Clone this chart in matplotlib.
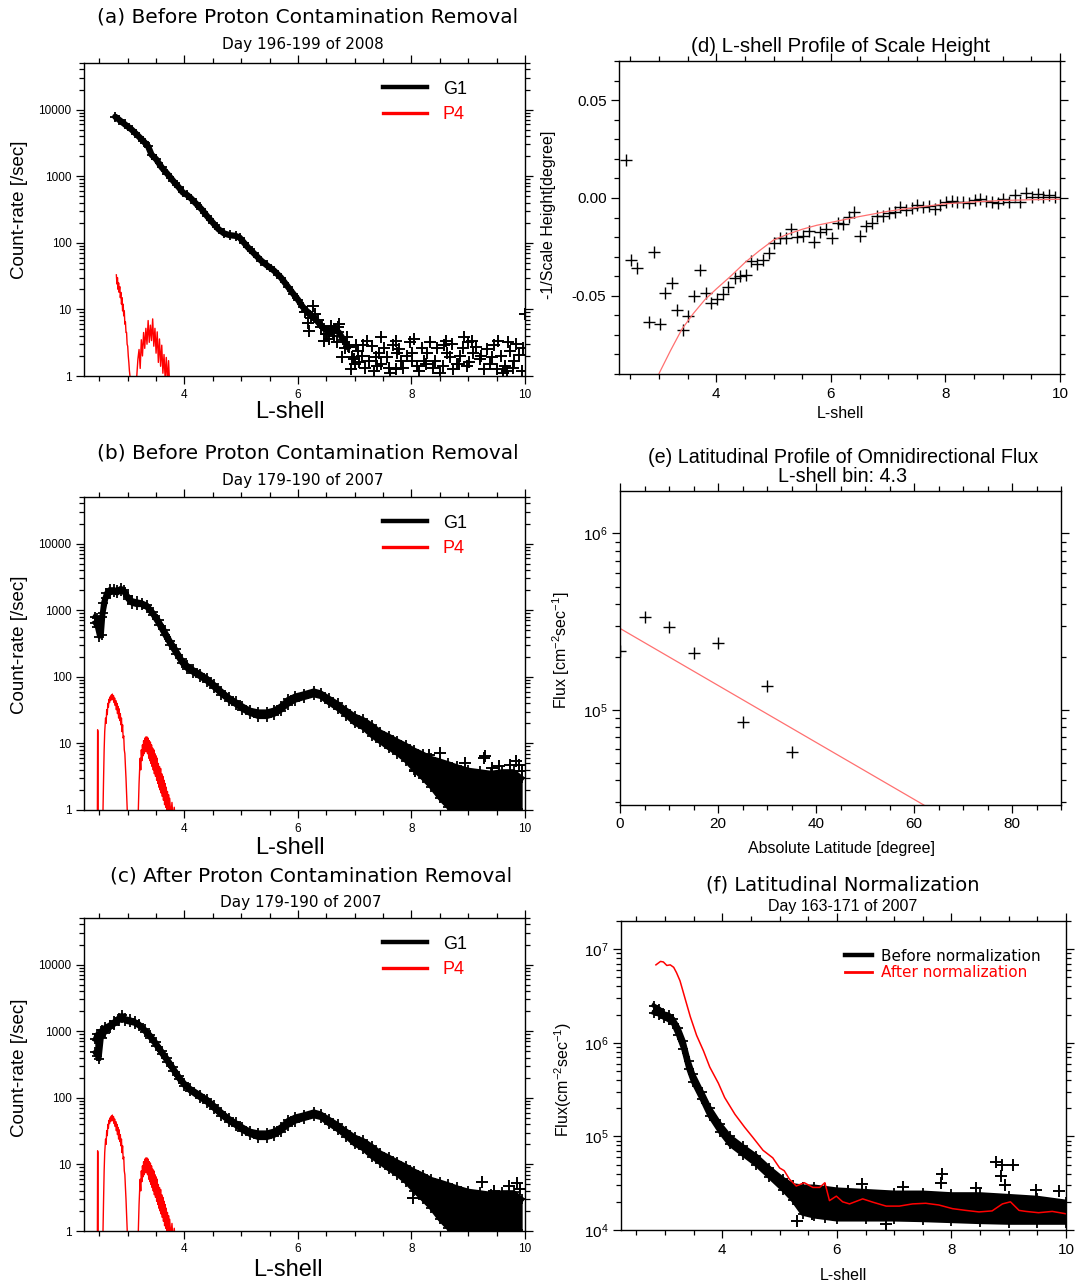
import numpy as np
import matplotlib.pyplot as plt
from matplotlib.lines import Line2D
from matplotlib.ticker import MultipleLocator, LogLocator, NullFormatter, FixedLocator, FixedFormatter, FormatStrFormatter

plt.rcParams['font.family'] = ['Liberation Sans', 'DejaVu Sans']
plt.rcParams['axes.unicode_minus'] = False
plt.rcParams['mathtext.fontset'] = 'custom'
plt.rcParams['mathtext.rm'] = 'Liberation Sans'
plt.rcParams['mathtext.default'] = 'regular'

# ---------------- (a) day 196-199 of 2008 ----------------
a_L = [2.78, 2.85, 2.95, 3.07, 3.20, 3.30, 3.36, 3.42, 3.50, 3.60, 3.70, 3.80, 3.90, 3.97,
       4.05, 4.12, 4.20, 4.30, 4.40, 4.50, 4.60, 4.70, 4.80, 4.90, 4.97, 5.05, 5.12, 5.22,
       5.35, 5.45, 5.58, 5.70, 5.82, 5.92, 6.00, 6.08, 6.15, 6.25, 6.35, 6.45, 6.55, 6.65,
       6.72, 6.80, 6.88]
a_g1 = [7800, 7000, 6000, 5000, 3900, 3200, 2800, 2100, 1800, 1350, 1080, 850, 680, 570,
        520, 460, 390, 320, 250, 200, 160, 138, 130, 127, 120, 100, 85, 70,
        54, 46, 38, 30, 22, 17, 14, 11, 9.5, 8, 6.5, 5.2, 4.8, 5.0,
        4.5, 3.5, 2.7]
a_tail_L = [6.26, 6.23, 6.20, 6.46, 6.58, 6.73, 6.64, 6.87, 6.78, 6.90, 6.93, 7.05, 7.08, 7.22,
            7.25, 7.34, 7.43, 7.46, 7.46, 7.57, 7.72, 7.75, 7.72, 7.81, 7.98, 8.01, 8.01, 8.13,
            8.22, 8.33, 8.28, 8.42, 8.60, 8.63, 8.74, 8.86, 8.92, 8.98, 9.06, 9.09, 9.27, 9.33,
            9.42, 9.53, 9.50, 9.68, 9.74, 9.85, 9.80, 9.94, 10.0, 6.35, 6.52, 7.15, 7.62, 8.50,
            8.80, 9.20, 9.62, 6.98,
            6.12, 6.18, 6.30, 6.40, 6.50, 6.55, 6.62, 6.68, 6.70, 6.82, 6.95, 7.00, 7.02, 7.12,
            7.18, 7.30, 7.38, 7.40, 7.52, 7.60, 7.68, 7.78, 7.85, 7.92, 8.05, 8.10, 8.18, 8.25,
            8.38, 8.45, 8.55, 8.58, 8.68, 8.72, 8.83, 8.90, 9.00, 9.02, 9.14, 9.22, 9.38, 9.45,
            9.58, 9.65, 9.70, 9.78, 9.90, 9.96]
a_tail_v = [11.2, 7.5, 4.8, 3.4, 5.6, 6.0, 4.0, 3.8, 1.9, 2.7, 1.26, 2.4, 1.6, 3.4,
            1.7, 1.2, 2.25, 3.8, 1.5, 1.9, 3.4, 2.2, 1.26, 1.7, 3.2, 2.2, 1.7, 1.2,
            1.7, 3.2, 2.2, 1.7, 3.4, 2.2, 1.26, 2.0, 3.8, 1.4, 3.4, 2.2, 1.26, 2.5,
            1.9, 3.4, 1.26, 1.2, 2.4, 3.0, 1.7, 1.2, 8.5, 7.0, 4.2, 2.9, 1.1, 1.1,
            1.5, 1.8, 1.1, 1.8,
            9.0, 6.2, 8.5, 5.5, 4.3, 3.6, 4.6, 3.2, 5.5, 2.6, 1.9, 1.5, 2.9, 2.0,
            1.3, 2.8, 1.9, 1.4, 2.6, 1.3, 2.9, 2.5, 1.3, 2.0, 3.6, 1.4, 2.6, 1.5,
            1.3, 2.6, 1.4, 2.9, 1.9, 3.0, 1.5, 2.6, 3.2, 1.6, 2.7, 2.0, 1.5, 2.9,
            2.0, 1.4, 3.2, 1.3, 2.1, 2.6]
a_p4_L1 = [2.80, 2.81, 2.82, 2.83, 2.84, 2.85, 2.86, 2.87, 2.88, 2.89, 2.90, 2.91, 2.92,
           2.93, 2.94, 2.95, 2.96, 2.97, 2.98, 2.99, 3.00, 3.01, 3.02, 3.03, 3.04, 3.06]
a_p4_v1 = [33, 24, 30, 20, 25, 18, 22, 15, 18, 12, 15, 9.5, 12,
           8, 9.5, 6, 6.5, 4.5, 4.5, 3.0, 2.8, 2, 1.6, 1.2, 1.0, 0.5]
a_p4_L2 = [3.14, 3.16, 3.18, 3.20, 3.22, 3.24, 3.26, 3.28, 3.30, 3.32, 3.34, 3.36, 3.38, 3.40,
           3.42, 3.44, 3.46, 3.48, 3.50, 3.52, 3.54, 3.56, 3.58, 3.60, 3.62, 3.64, 3.66, 3.68,
           3.70, 3.72, 3.74]
a_p4_v2 = [0.5, 1.0, 1.8, 2.5, 1.3, 3.5, 2.0, 4.5, 2.6, 5.2, 3.0, 6.8, 3.2, 5.8,
           3.4, 7.2, 2.8, 5.2, 2.2, 4.6, 1.6, 3.6, 1.4, 2.9, 1.1, 2.1, 0.9, 1.9,
           0.8, 1.7, 0.7]

# ---------------- (b) day 179-190 of 2007, before removal ----------------
b_L = [2.42, 2.46, 2.50, 2.54, 2.57, 2.62, 2.68, 2.75, 2.82, 2.88, 2.94, 3.00, 3.08, 3.16,
       3.25, 3.34, 3.44, 3.55, 3.65, 3.75, 3.85, 3.95, 4.05, 4.15, 4.28, 4.40, 4.52, 4.65,
       4.78, 4.90, 5.02, 5.15, 5.30, 5.45, 5.58, 5.70, 5.82, 5.95, 6.10, 6.28, 6.40, 6.55,
       6.70, 6.85, 7.00, 7.15, 7.30, 7.45, 7.60, 7.75, 7.90, 8.05, 8.20, 8.35, 8.50, 8.65,
       8.80, 9.00, 9.20, 9.40, 9.60, 9.80, 9.95]
b_lo = [650, 560, 400, 420, 900, 1500, 1800, 1850, 1800, 1950, 1800, 1450, 1250, 1200,
        1200, 1080, 850, 600, 420, 300, 220, 160, 130, 115, 98, 84, 68, 54,
        44, 38, 32, 28, 25, 25, 27, 31, 38, 44, 48, 53, 50, 40,
        33, 26, 20, 17, 13, 10.5, 8.5, 7, 5.5, 4, 3, 2.2, 1.5, 1.1,
        0.9, 0.9, 0.9, 0.9, 0.9, 0.9, 0.9]
b_hi = [800, 760, 720, 800, 1300, 1800, 2050, 2050, 2000, 2150, 2000, 1650, 1400, 1350,
        1300, 1200, 950, 700, 500, 350, 260, 185, 150, 130, 112, 96, 78, 62,
        50, 43, 37, 32, 30, 30, 32, 37, 46, 52, 56, 62, 58, 48,
        40, 32, 26, 23, 19, 15, 13, 11, 9.5, 8, 7, 6, 5.5, 5,
        4.5, 4, 3.8, 3.6, 3.8, 3.8, 3.0]
b_out_L = [8.07, 8.51, 9.27, 9.42, 9.74, 9.89, 9.94, 8.30, 9.30, 9.55, 9.85, 8.95]
b_out_v = [3.8, 7.1, 6.0, 4.3, 4.8, 4.8, 3.8, 6.8, 6.5, 4.5, 5.5, 5.0]

# P4 (identical in panels b and c)
p4_L0 = [2.465, 2.470, 2.475, 2.480]
p4_v0 = [0.5, 16, 15, 0.5]
p4_L1 = [2.56, 2.575, 2.585, 2.595, 2.61, 2.62, 2.63, 2.64, 2.65, 2.66, 2.67, 2.68, 2.69, 2.70,
         2.71, 2.72, 2.73, 2.74, 2.75, 2.76, 2.77, 2.78, 2.79, 2.80, 2.81, 2.82, 2.83, 2.84,
         2.85, 2.86, 2.87, 2.88, 2.89, 2.90, 2.91, 2.92, 2.93, 2.94, 2.95, 2.96, 2.97, 2.98,
         2.99, 3.00]
p4_v1 = [0.6, 3, 8, 15, 24, 20, 32, 27, 40, 35, 46, 41, 50, 44,
         53, 46, 55, 45, 52, 41, 48, 37, 44, 32, 40, 28, 36, 24,
         33, 22, 28, 19, 24, 15, 19, 12, 13, 8, 7, 4.5, 3, 1.8,
         1.1, 0.6]
p4_L2 = [3.18, 3.20, 3.21, 3.22, 3.23, 3.24, 3.25, 3.26, 3.27, 3.28, 3.29, 3.30, 3.31, 3.32,
         3.33, 3.34, 3.35, 3.36, 3.37, 3.38, 3.39, 3.40, 3.41, 3.42, 3.43, 3.44, 3.45, 3.46,
         3.47, 3.48, 3.49, 3.50, 3.51, 3.52, 3.53, 3.54, 3.55, 3.56, 3.57, 3.58, 3.59, 3.60,
         3.61, 3.62, 3.63, 3.64, 3.65, 3.66, 3.67, 3.68, 3.69, 3.70, 3.71, 3.72, 3.73, 3.74,
         3.76, 3.78, 3.80, 3.82, 3.84]
p4_v2 = [0.6, 2.5, 4, 6, 4, 8, 5.5, 9.5, 6.5, 11, 7, 12, 7.5, 12.5,
         7.5, 12.5, 7, 12, 6, 11, 5.5, 10.5, 5, 9.5, 4.5, 8.5, 4, 8,
         3.5, 7, 3.2, 6.5, 2.8, 6, 2.5, 5, 2.2, 4.5, 2.0, 4.2, 1.8, 3.5,
         1.6, 3.2, 1.4, 2.8, 1.2, 2.5, 1.1, 2.2, 1.0, 1.9, 0.9, 1.7, 0.8, 1.5,
         0.8, 1.3, 0.7, 1.1, 0.6]

# ---------------- (c) after removal ----------------
c_L = [2.42, 2.46, 2.50, 2.54, 2.60, 2.68, 2.76, 2.84, 2.90, 2.96, 3.04, 3.12, 3.20, 3.30,
       3.40, 3.50, 3.60, 3.70, 3.80, 3.90, 4.00, 4.10, 4.28, 4.40, 4.52, 4.65,
       4.78, 4.90, 5.02, 5.15, 5.30, 5.45, 5.58, 5.70, 5.82, 5.95, 6.10, 6.28, 6.40, 6.55,
       6.70, 6.85, 7.00, 7.15, 7.30, 7.45, 7.60, 7.75, 7.90, 8.05, 8.20, 8.35, 8.50, 8.65,
       8.80, 9.00, 9.20, 9.40, 9.60, 9.80, 9.95]
c_lo = [480, 420, 380, 800, 950, 1100, 1250, 1400, 1550, 1400, 1350, 1300, 1180, 980,
        780, 600, 450, 340, 255, 190, 150, 125, 98, 84, 68, 54,
        44, 38, 32, 28, 25, 25, 27, 31, 38, 44, 48, 53, 50, 40,
        33, 26, 20, 17, 13, 10.5, 8.5, 7, 5.5, 4, 3, 2.2, 1.5, 1.1,
        0.9, 0.9, 0.9, 0.9, 0.9, 0.9, 0.9]
c_hi = [750, 900, 900, 1050, 1150, 1250, 1400, 1600, 1750, 1550, 1500, 1420, 1300, 1080,
        880, 680, 510, 390, 290, 215, 168, 140, 112, 96, 78, 62,
        50, 43, 37, 32, 30, 30, 32, 37, 46, 52, 56, 62, 58, 48,
        40, 32, 26, 23, 19, 15, 13, 11, 9.5, 8, 7, 6, 5.5, 5,
        4.5, 4, 3.8, 3.6, 3.8, 3.8, 3.0]
c_out_L = [8.03, 9.25, 9.71, 9.86, 8.24, 9.45, 9.92]
c_out_v = [3.1, 5.5, 4.7, 5.2, 4.1, 4.0, 4.2]

# ---------------- (d) scale height ----------------
d_L = [2.42, 2.51, 2.61, 2.82, 2.91, 3.01, 3.11, 3.22, 3.31, 3.41, 3.51, 3.61, 3.71, 3.82,
       3.91, 4.01, 4.11, 4.21, 4.32, 4.42, 4.51, 4.61, 4.71, 4.81, 4.92, 5.01, 5.11, 5.21,
       5.31, 5.41, 5.52, 5.62, 5.71, 5.81, 5.91, 6.02, 6.12, 6.21, 6.31, 6.41, 6.51, 6.61,
       6.71, 6.81, 6.91, 7.01, 7.12, 7.21, 7.31, 7.41, 7.51, 7.61, 7.71, 7.81, 7.91, 8.01,
       8.11, 8.21, 8.31, 8.41, 8.51, 8.61, 8.71, 8.81, 8.91, 9.01, 9.11, 9.21, 9.31, 9.41,
       9.51, 9.61, 9.71, 9.81, 9.91]
d_h = [0.0195, -0.0318, -0.0356, -0.0634, -0.0275, -0.0646, -0.0485, -0.0434, -0.0571,
       -0.0673, -0.0603, -0.0503, -0.0369, -0.0485, -0.0537, -0.0516, -0.0489, -0.0455,
       -0.0410, -0.0400, -0.0395, -0.0323, -0.0338, -0.0318, -0.0280, -0.0229, -0.0207,
       -0.0207, -0.0161, -0.0198, -0.0195, -0.0169, -0.0224, -0.0176, -0.0161, -0.0207,
       -0.0130, -0.0135, -0.0096, -0.0070, -0.0195, -0.0142, -0.0126, -0.0091, -0.0091,
       -0.0075, -0.0070, -0.0048, -0.0062, -0.0053, -0.0036, -0.0044, -0.0041, -0.0056,
       -0.0034, -0.0022, -0.0015, -0.0019, -0.0019, -0.0024, -0.0010, -0.0007, -0.0014,
       -0.0019, -0.0027, -0.0007, -0.0019, 0.0014, -0.0019, 0.0027, 0.0007, 0.0021,
       0.0007, 0.0015, 0.0007]
d_fit_L = [3.0, 3.2, 3.4, 3.6, 3.8, 4.0, 4.25, 4.5, 4.75, 5.0, 5.25, 5.5, 5.75, 6.0, 6.5,
           7.0, 7.5, 8.0, 8.5, 9.0, 9.5, 10.0]
d_fit_h = [-0.0897, -0.078, -0.067, -0.059, -0.052, -0.0465, -0.040, -0.033, -0.027,
           -0.0215, -0.0185, -0.016, -0.014, -0.0125, -0.0095, -0.0068, -0.0048, -0.0030,
           -0.0020, -0.0013, -0.0009, -0.0007]

# ---------------- (e) latitudinal profile ----------------
e_lat = [0, 5, 10, 15, 20, 25, 30, 35]
e_flux = [2.16e5, 3.37e5, 2.97e5, 2.10e5, 2.39e5, 8.57e4, 1.37e5, 5.81e4]
e_fit_lat = [0, 62]
e_fit_flux = [2.9e5, 2.9e4]

# ---------------- (f) latitudinal normalization ----------------
f_L = [2.80, 2.90, 2.98, 3.06, 3.14, 3.23, 3.32, 3.41, 3.49, 3.64, 3.78, 3.96, 4.13, 4.36,
       4.59, 4.82, 5.06, 5.23, 5.40, 5.60, 5.80, 6.00, 6.50, 7.00, 7.50, 8.00, 8.50, 9.00,
       9.50, 10.0]
f_lo = [2.1e6, 2.0e6, 1.85e6, 1.75e6, 1.6e6, 1.2e6, 8.5e5, 5.2e5, 3.8e5, 2.5e5, 1.65e5,
        1.12e5, 8.2e4, 6.4e4, 5.0e4, 3.7e4, 2.7e4, 2.1e4, 1.5e4, 1.4e4, 1.35e4, 1.3e4,
        1.3e4, 1.3e4, 1.28e4, 1.25e4, 1.22e4, 1.2e4, 1.2e4, 1.2e4]
f_hi = [2.5e6, 2.3e6, 2.05e6, 2.0e6, 1.8e6, 1.45e6, 1.05e6, 6.4e5, 4.6e5, 3.0e5, 2.0e5,
        1.35e5, 1.0e5, 7.8e4, 6.2e4, 4.6e4, 3.5e4, 3.0e4, 2.9e4, 2.9e4, 2.8e4, 2.7e4,
        2.6e4, 2.5e4, 2.5e4, 2.4e4, 2.4e4, 2.3e4, 2.2e4, 2.0e4]
f_out_L = [8.77, 8.88, 9.07, 7.83, 8.87, 6.44, 9.47, 9.87, 8.42, 8.94, 7.16, 7.81, 6.20,
           6.86, 5.57, 5.30]
f_out_v = [5.3e4, 5.0e4, 5.0e4, 4.0e4, 3.8e4, 3.1e4, 2.7e4, 2.6e4, 2.8e4, 3.0e4, 2.85e4,
           3.2e4, 2.6e4, 1.15e4, 1.5e4, 1.25e4]
f_norm_L = [2.84, 2.92, 2.97, 3.03, 3.09, 3.15, 3.20, 3.26, 3.35, 3.44, 3.55, 3.67, 3.78,
            3.93, 4.04, 4.22, 4.39, 4.53, 4.71, 4.88, 5.00, 5.08, 5.17, 5.29, 5.43, 5.58,
            5.70, 5.79, 5.87, 5.99, 6.10, 6.22, 6.45, 6.63, 6.86, 7.09, 7.32, 7.55, 7.78,
            8.02, 8.25, 8.48, 8.71, 8.89, 9.03, 9.18, 9.30, 9.52, 9.76, 10.0]
f_norm = [6.8e6, 7.4e6, 7.3e6, 6.7e6, 6.8e6, 6.4e6, 5.6e6, 4.6e6, 2.95e6, 1.9e6, 1.2e6,
          8.2e5, 5.5e5, 3.7e5, 2.6e5, 1.72e5, 1.25e5, 9.8e4, 7.1e4, 5.9e4, 4.6e4, 4.3e4,
          3.5e4, 2.95e4, 3.2e4, 2.85e4, 2.85e4, 3.2e4, 2.06e4, 2.3e4, 2.0e4, 1.9e4, 2.15e4,
          1.98e4, 1.8e4, 1.8e4, 1.9e4, 1.93e4, 1.85e4, 1.69e4, 1.62e4, 1.56e4, 1.6e4, 1.9e4,
          2.0e4, 1.62e4, 1.58e4, 1.53e4, 1.58e4, 1.49e4]

W, H = 1075, 1285
fig = plt.figure(figsize=(W / 100, H / 100), dpi=100)


def px_axes(l, t, r, b):
    return fig.add_axes([l / W, 1 - b / H, (r - l) / W, (b - t) / H])


def ftext(x, y, s, size, **kw):
    fig.text(x / W, 1 - y / H, s, fontsize=size, ha='center', va='center', **kw)


def style(ax, labelsize):
    ax.tick_params(which='both', direction='out', top=True, right=True,
                   labelsize=labelsize, width=0.9, pad=3)
    ax.tick_params(which='major', length=6)
    ax.tick_params(which='minor', length=3.5)
    for s in ax.spines.values():
        s.set_linewidth(1.0)


def count_axes(ax):
    ax.set_yscale('log')
    ax.set_xlim(2.23, 10)
    ax.set_ylim(1, 5e4)
    ax.xaxis.set_major_locator(FixedLocator([4, 6, 8, 10]))
    ax.xaxis.set_minor_locator(MultipleLocator(0.5))
    ax.yaxis.set_major_locator(FixedLocator([1, 10, 100, 1000, 10000]))
    ax.yaxis.set_major_formatter(FixedFormatter(['1', '10', '100', '1000', '10000']))
    ax.yaxis.set_minor_locator(LogLocator(base=10, subs=np.arange(2, 10)))
    ax.yaxis.set_minor_formatter(NullFormatter())
    style(ax, 8.5)
    h = [Line2D([], [], color='k', lw=3.2), Line2D([], [], color='r', lw=2.4)]
    ax.legend(h, ['G1', 'P4'], loc='upper right', bbox_to_anchor=(0.905, 0.995),
              frameon=False, fontsize=13, handlelength=2.4, handletextpad=0.9,
              labelspacing=0.45, labelcolor=['k', 'r'])


def band(ax, L, lo, hi):
    ax.fill_between(L, lo, hi, color='k', lw=0)
    ax.plot(L, lo, color='k', lw=3.2, solid_joinstyle='round')
    ax.plot(L, hi, color='k', lw=3.2, solid_joinstyle='round')
    ax.plot(L, lo, 'k+', ms=7, mew=1.3)
    ax.plot(L, hi, 'k+', ms=7, mew=1.3)


TITLE = dict(family=['DejaVu Sans'])

# ---- panel (a)
ax = px_axes(84, 63, 525, 376)
ax.plot(a_L, a_g1, color='k', lw=4.5, solid_capstyle='round')
ax.plot(a_L, a_g1, 'k+', ms=7, mew=1.3)
ax.plot(a_tail_L, a_tail_v, 'k+', ms=8, mew=1.4, ls='none')
ax.plot(a_p4_L1, a_p4_v1, color='r', lw=1)
ax.plot(a_p4_L2, a_p4_v2, color='r', lw=1)
count_axes(ax)
ftext(308, 17, '(a) Before Proton Contamination Removal', 14.5, **TITLE)
ftext(303, 44, 'Day 196-199 of 2008', 11, **TITLE)
ftext(20, 210, 'Count-rate [/sec]', 13.5, rotation=90)
ftext(290, 412, 'L-shell', 17)

# ---- panel (b)
ax = px_axes(84, 497, 525, 810)
band(ax, b_L, b_lo, b_hi)
ax.plot(b_out_L, b_out_v, 'k+', ms=8, mew=1.4, ls='none')
for Lp, vp in [(p4_L0, p4_v0), (p4_L1, p4_v1), (p4_L2, p4_v2)]:
    ax.plot(Lp, vp, color='r', lw=1)
count_axes(ax)
ftext(308, 453, '(b) Before Proton Contamination Removal', 14.5, **TITLE)
ftext(303, 480, 'Day 179-190 of 2007', 11, **TITLE)
ftext(20, 645, 'Count-rate [/sec]', 13.5, rotation=90)
ftext(290, 848, 'L-shell', 17)

# ---- panel (c)
ax = px_axes(84, 918, 525, 1231)
band(ax, c_L, c_lo, c_hi)
ax.plot(c_out_L, c_out_v, 'k+', ms=8, mew=1.4, ls='none')
for Lp, vp in [(p4_L0, p4_v0), (p4_L1, p4_v1), (p4_L2, p4_v2)]:
    ax.plot(Lp, vp, color='r', lw=1)
count_axes(ax)
ftext(311, 876, '(c) After Proton Contamination Removal', 14.5, **TITLE)
ftext(301, 903, 'Day 179-190 of 2007', 11, **TITLE)
ftext(20, 1068, 'Count-rate [/sec]', 13.5, rotation=90)
ftext(288, 1270, 'L-shell', 17)

# ---- panel (d)
ax = px_axes(619, 61, 1060, 374)
ax.plot(d_L, d_h, 'k+', ms=8, mew=1.0, ls='none')
ax.plot(d_fit_L, d_fit_h, color='#ff7070', lw=0.9)
ax.set_xlim(2.3, 10)
ax.set_ylim(-0.09, 0.07)
ax.xaxis.set_major_locator(FixedLocator([4, 6, 8, 10]))
ax.xaxis.set_minor_locator(MultipleLocator(0.5))
ax.yaxis.set_major_locator(FixedLocator([-0.05, 0.0, 0.05]))
ax.yaxis.set_major_formatter(FormatStrFormatter('%.2f'))
ax.yaxis.set_minor_locator(MultipleLocator(0.01))
style(ax, 11)
ftext(841, 46, '(d) L-shell Profile of Scale Height', 14.8)
ftext(548, 215, '-1/Scale Height[degree]', 11.5, rotation=90)
ftext(840, 413, 'L-shell', 11.5)

# ---- panel (e)
ax = px_axes(620, 491, 1061, 805)
ax.plot(e_lat, e_flux, 'k+', ms=8, mew=1.0, ls='none')
ax.plot(e_fit_lat, e_fit_flux, color='#ff7070', lw=0.9)
ax.set_yscale('log')
ax.set_xlim(0, 90)
ax.set_ylim(2.9e4, 1.74e6)
ax.xaxis.set_major_locator(FixedLocator([0, 20, 40, 60, 80]))
ax.xaxis.set_minor_locator(MultipleLocator(5))
ax.yaxis.set_major_locator(LogLocator(base=10))
ax.yaxis.set_minor_locator(LogLocator(base=10, subs=np.arange(2, 10)))
ax.yaxis.set_minor_formatter(NullFormatter())
style(ax, 11)
ftext(843, 457, '(e) Latitudinal Profile of Omnidirectional Flux', 14.2)
ftext(843, 476, 'L-shell bin: 4.3', 14.2)
ftext(561, 650, 'Flux [cm$^{-2}$sec$^{-1}$]', 11.5, rotation=90)
ftext(841, 849, 'Absolute Latitude [degree]', 11.5)

# ---- panel (f)
ax = px_axes(621, 921, 1066, 1230)
band(ax, f_L, f_lo, f_hi)
ax.plot(f_out_L, f_out_v, 'k+', ms=8, mew=1.4, ls='none')
ax.plot(f_norm_L, f_norm, color='r', lw=1.1)
ax.set_yscale('log')
ax.set_xlim(2.23, 10)
ax.set_ylim(1e4, 2e7)
ax.xaxis.set_major_locator(FixedLocator([4, 6, 8, 10]))
ax.xaxis.set_minor_locator(MultipleLocator(0.5))
ax.yaxis.set_major_locator(LogLocator(base=10))
ax.yaxis.set_minor_locator(LogLocator(base=10, subs=np.arange(2, 10)))
ax.yaxis.set_minor_formatter(NullFormatter())
style(ax, 11)
h = [Line2D([], [], color='k', lw=3.2), Line2D([], [], color='r', lw=2.0)]
ax.legend(h, ['Before normalization', 'After normalization'], loc='upper right',
          bbox_to_anchor=(0.975, 0.955), frameon=False, handlelength=1.8,
          handletextpad=0.6, labelspacing=0.1, labelcolor=['k', 'r'],
          prop=dict(family='DejaVu Sans', size=11))
ftext(843, 885, '(f) Latitudinal Normalization', 14, **TITLE)
ftext(843, 906, 'Day 163-171 of 2007', 11.5)
ftext(563, 1080, 'Flux(cm$^{-2}$sec$^{-1}$)', 11.5, rotation=90)
ftext(843, 1276, 'L-shell', 11.5)

fig.savefig('out.png', dpi=100)
